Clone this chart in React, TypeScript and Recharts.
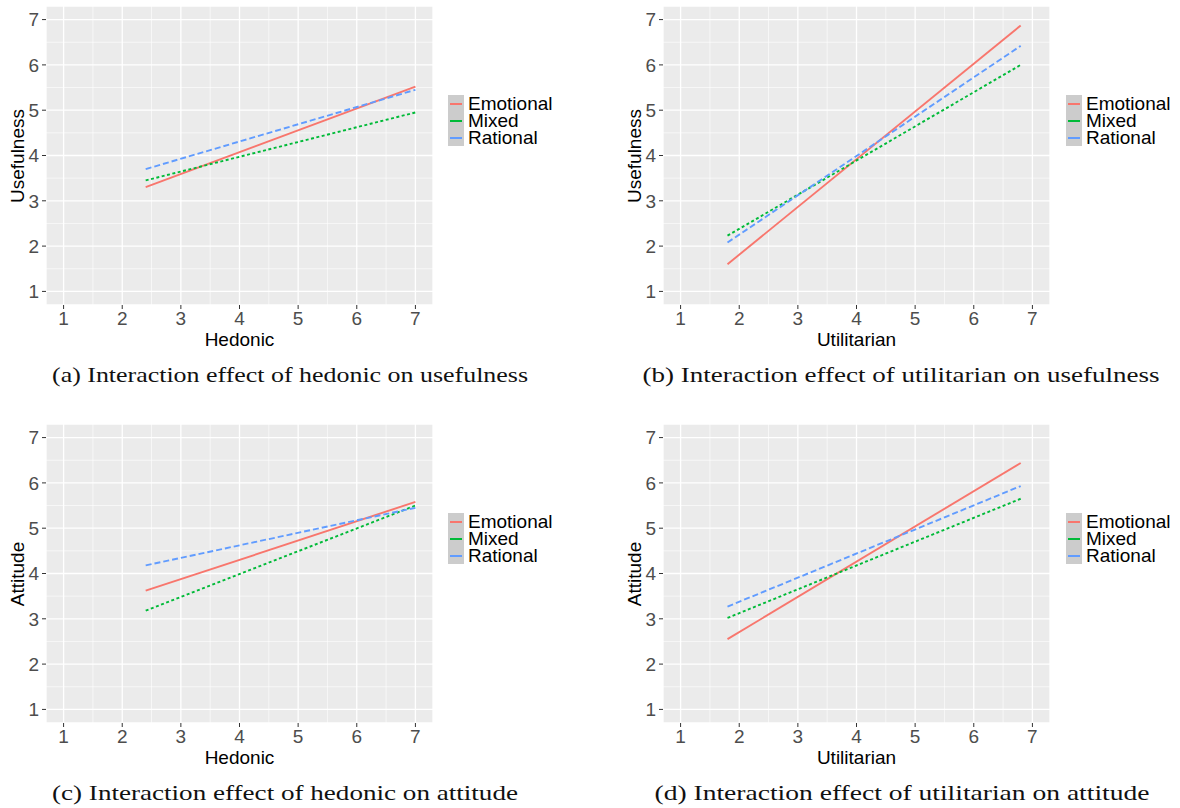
import React from "react";
import { CartesianGrid, Line, LineChart, ReferenceLine, XAxis, YAxis } from "recharts";

const groups = ["Emotional", "Mixed", "Rational"];
const groupColors = ["#F8766D", "#00BA38", "#619CFF"];
const groupDash = [undefined, "3 2.5", "6 3"];

const majorTicks = [1, 2, 3, 4, 5, 6, 7];
const minorTicks = [1.5, 2.5, 3.5, 4.5, 5.5, 6.5];

// x ranges of the fitted lines
const hedonicX = [2.4, 7];
const utilitarianX = [1.8, 6.8];

// (a) hedonic -> usefulness
const aEmotional = [3.3, 5.52];
const aMixed = [3.45, 4.95];
const aRational = [3.7, 5.45];

// (b) utilitarian -> usefulness
const bEmotional = [1.6, 6.87];
const bMixed = [2.23, 6.0];
const bRational = [2.08, 6.42];

// (c) hedonic -> attitude
const cEmotional = [3.62, 5.58];
const cMixed = [3.18, 5.5];
const cRational = [4.18, 5.45];

// (d) utilitarian -> attitude
const dEmotional = [2.55, 6.44];
const dMixed = [3.02, 5.65];
const dRational = [3.27, 5.93];

const rows = (xs: number[], e: number[], m: number[], r: number[]) =>
  xs.map((x, i) => ({ x, Emotional: e[i], Mixed: m[i], Rational: r[i] }));

const sans = "'Liberation Sans', Arial, sans-serif";
const serif = "'Liberation Serif', 'Times New Roman', serif";

type PanelProps = {
  left: number;
  top: number;
  data: { x: number; Emotional: number; Mixed: number; Rational: number }[];
  xLabel: string;
  yLabel: string;
  legendLeft: number;
  caption: string;
  captionX: number;
  captionW: number;
};

function Panel({ left, top, data, xLabel, yLabel, legendLeft, caption, captionX, captionW }: PanelProps) {
  const w = 441;
  const h = 350;
  const tick = { fontSize: 19, fill: "#4D4D4D", fontFamily: sans };
  return (
    <>
      <div style={{ position: "absolute", left, top, width: w, height: h }}>
        <LineChart width={w} height={h} data={data} margin={{ top: 6, right: 8, bottom: 0, left: 0 }}>
          <CartesianGrid fill="#EBEBEB" stroke="#FFFFFF" strokeWidth={1.3} />
          {minorTicks.map((v) => (
            <ReferenceLine key={"vx" + v} x={v} stroke="#FFFFFF" strokeWidth={0.6} />
          ))}
          {minorTicks.map((v) => (
            <ReferenceLine key={"hy" + v} y={v} stroke="#FFFFFF" strokeWidth={0.6} />
          ))}
          <XAxis
            type="number"
            dataKey="x"
            domain={[0.7, 7.3]}
            ticks={majorTicks}
            allowDataOverflow
            axisLine={false}
            tickSize={4}
            tickMargin={3}
            tickLine={{ stroke: "#333333" }}
            tick={tick}
            height={45}
          />
          <YAxis
            type="number"
            domain={[0.7, 7.3]}
            ticks={majorTicks}
            allowDataOverflow
            axisLine={false}
            tickSize={4}
            tickMargin={3}
            tickLine={{ stroke: "#333333" }}
            tick={tick}
            width={46}
          />
          {groups.map((g, i) => (
            <Line
              key={g}
              type="linear"
              dataKey={g}
              stroke={groupColors[i]}
              strokeWidth={1.9}
              strokeDasharray={groupDash[i]}
              dot={false}
              activeDot={false}
              isAnimationActive={false}
            />
          ))}
        </LineChart>
        <div
          style={{
            position: "absolute",
            left: 46,
            width: 387,
            top: 330,
            textAlign: "center",
            fontSize: 19,
            fontFamily: sans,
            color: "#000",
            lineHeight: "19px",
          }}
        >
          {xLabel}
        </div>
        <div
          style={{
            position: "absolute",
            left: 18 - 100,
            top: 155.5 - 10,
            width: 200,
            height: 20,
            lineHeight: "20px",
            textAlign: "center",
            fontSize: 19,
            fontFamily: sans,
            color: "#000",
            transform: "rotate(-90deg)",
          }}
        >
          {yLabel}
        </div>
      </div>
      <div style={{ position: "absolute", left: left + legendLeft, top: top + 95 }}>
        {groups.map((g, i) => (
          <div key={g} style={{ display: "flex", alignItems: "center", height: 17 }}>
            <div style={{ width: 16, height: 17, background: "#CCCCCC", position: "relative" }}>
              <div
                style={{
                  position: "absolute",
                  left: 2,
                  right: 2,
                  top: 7.5,
                  height: 2,
                  background: groupColors[i],
                }}
              />
            </div>
            <span style={{ marginLeft: 4, fontSize: 19, fontFamily: sans, color: "#000", lineHeight: "17px" }}>{g}</span>
          </div>
        ))}
      </div>
      <svg style={{ position: "absolute", left: 0, top: top + 355, overflow: "visible" }} width={1180} height={40}>
        <text
          x={captionX}
          y={27}
          textAnchor="middle"
          fontFamily={serif}
          fontSize={22}
          fill="#111"
          textLength={captionW}
          lengthAdjust="spacingAndGlyphs"
        >
          {caption}
        </text>
      </svg>
    </>
  );
}

export default function App() {
  return (
    <div style={{ position: "absolute", left: 0, top: 0, width: 1180, height: 808, background: "#fff", overflow: "hidden" }}>
      <Panel
        left={0}
        top={0}
        data={rows(hedonicX, aEmotional, aMixed, aRational)}
        xLabel="Hedonic"
        yLabel="Usefulness"
        legendLeft={448}
        caption="(a) Interaction effect of hedonic on usefulness"
        captionX={290}
        captionW={476}
      />
      <Panel
        left={617}
        top={0}
        data={rows(utilitarianX, bEmotional, bMixed, bRational)}
        xLabel="Utilitarian"
        yLabel="Usefulness"
        legendLeft={449}
        caption="(b) Interaction effect of utilitarian on usefulness"
        captionX={901}
        captionW={517}
      />
      <Panel
        left={0}
        top={418}
        data={rows(hedonicX, cEmotional, cMixed, cRational)}
        xLabel="Hedonic"
        yLabel="Attitude"
        legendLeft={448}
        caption="(c) Interaction effect of hedonic on attitude"
        captionX={285}
        captionW={466}
      />
      <Panel
        left={617}
        top={418}
        data={rows(utilitarianX, dEmotional, dMixed, dRational)}
        xLabel="Utilitarian"
        yLabel="Attitude"
        legendLeft={449}
        caption="(d) Interaction effect of utilitarian on attitude"
        captionX={902}
        captionW={495}
      />
    </div>
  );
}
